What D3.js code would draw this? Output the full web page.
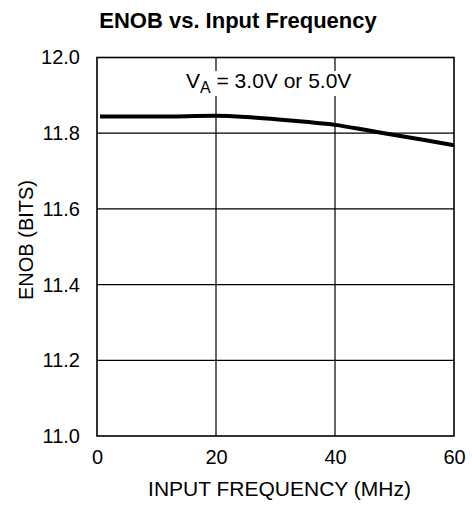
<!DOCTYPE html>
<html><head><meta charset="utf-8">
<script src="https://cdn.jsdelivr.net/npm/d3@7"></script>
<style>body{margin:0;background:#fff}svg{display:block}text{font-family:"Liberation Sans",Arial,sans-serif;fill:#000}</style>
</head><body>
<script>
const freq = [0.5, 10, 20, 25, 30, 35, 40, 45, 50, 55, 60];
const enob = [11.844, 11.844, 11.846, 11.843, 11.837, 11.830, 11.822, 11.809, 11.795, 11.782, 11.768];
const xTicks = [0, 20, 40, 60];
const yTicks = [11.0, 11.2, 11.4, 11.6, 11.8, 12.0];
const title = "ENOB vs. Input Frequency";
const xLabel = "INPUT FREQUENCY (MHz)";
const yLabel = "ENOB (BITS)";

const W = 472, H = 505;
const m = {l: 97, r: 18, t: 57.5, b: 69};
const svg = d3.select("body").append("svg").attr("width", W).attr("height", H);
const x = d3.scaleLinear().domain([0, 60]).range([m.l, W - m.r]);
const y = d3.scaleLinear().domain([11, 12]).range([H - m.b, m.t]);

svg.append("text").attr("x", 238).attr("y", 28).attr("text-anchor", "middle")
  .style("font-weight", "bold").style("font-size", "22px").text(title);

// grid
svg.append("g").selectAll("line").data(xTicks.slice(1, -1)).join("line")
  .attr("x1", d => x(d)).attr("x2", d => x(d)).attr("y1", y(11)).attr("y2", y(12))
  .attr("stroke", "#000").attr("stroke-width", 1.2);
svg.append("g").selectAll("line").data(yTicks.slice(1, -1)).join("line")
  .attr("y1", d => y(d)).attr("y2", d => y(d)).attr("x1", x(0)).attr("x2", x(60))
  .attr("stroke", "#000").attr("stroke-width", 1.2);

// annotation (white background behind text)
const ann = svg.append("text").attr("x", 186).attr("y", 88).style("font-size", "21px");
ann.append("tspan").text("V");
ann.append("tspan").attr("dy", 5).style("font-size", "16px").text("A");
ann.append("tspan").attr("dy", -5).text(" = 3.0V or 5.0V");
const bb = ann.node().getBBox();
svg.insert("rect", "text:last-of-type").attr("x", bb.x + 2).attr("y", bb.y + 2)
  .attr("width", bb.width - 4).attr("height", bb.height - 2).attr("fill", "#fff");
ann.raise();

// frame
svg.append("rect").attr("x", x(0)).attr("y", y(12)).attr("width", x(60) - x(0)).attr("height", y(11) - y(12))
  .attr("fill", "none").attr("stroke", "#000").attr("stroke-width", 1.6);

// curve
svg.append("path").datum(freq.map((f, i) => [f, enob[i]]))
  .attr("d", d3.line().x(d => x(d[0])).y(d => y(d[1])).curve(d3.curveMonotoneX))
  .attr("fill", "none").attr("stroke", "#000").attr("stroke-width", 4);

// axes
const xa = svg.append("g").attr("transform", `translate(0,${y(11)})`)
  .call(d3.axisBottom(x).tickValues(xTicks).tickSize(0).tickPadding(14).tickFormat(d3.format("d")));
xa.select(".domain").remove();
xa.selectAll("text").style("font-size", "20px").attr("font-family", null);
const ya = svg.append("g").attr("transform", `translate(${x(0)},0)`)
  .call(d3.axisLeft(y).tickValues(yTicks).tickSize(0).tickPadding(17).tickFormat(d3.format(".1f")));
ya.select(".domain").remove();
ya.selectAll("text").style("font-size", "20px").attr("font-family", null);

svg.append("text").attr("x", x(30) + 4).attr("y", 496).attr("text-anchor", "middle")
  .style("font-size", "21px").text(xLabel);
svg.append("text").attr("transform", "translate(33,240) rotate(-90)").attr("text-anchor", "middle")
  .style("font-size", "20px").text(yLabel);
</script>
</body></html>
